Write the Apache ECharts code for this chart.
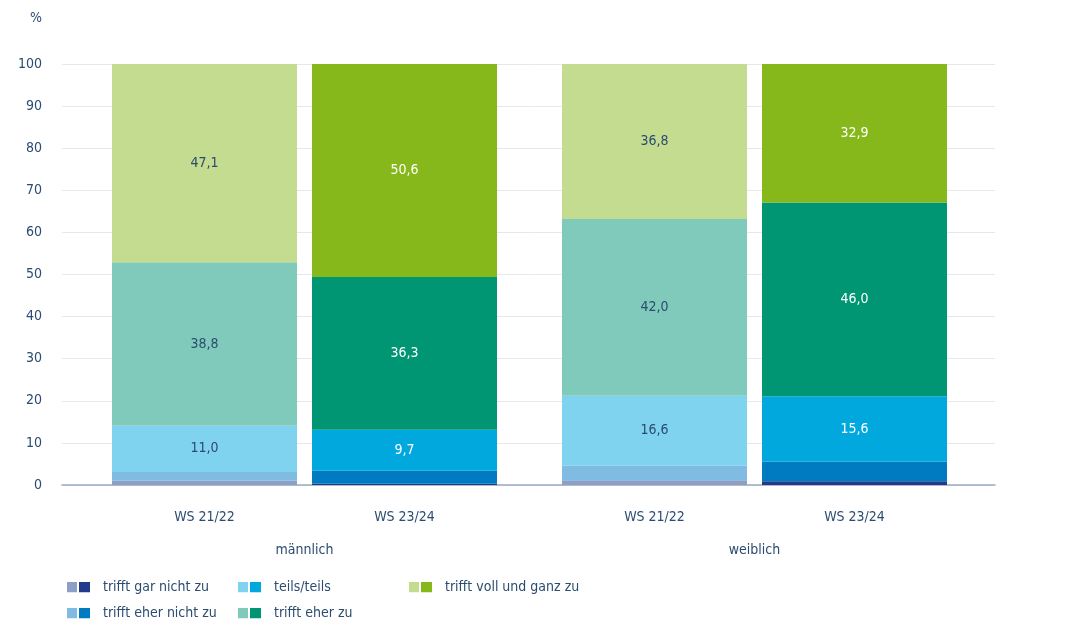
<!DOCTYPE html>
<html>
<head>
<meta charset="utf-8">
<script src="https://cdn.jsdelivr.net/npm/echarts@6/dist/echarts.min.js"></script>
<style>
  html, body { margin: 0; padding: 0; background: #fff; }
  #chart { width: 1080px; height: 632px; }
</style>
</head>
<body>
<div id="chart"></div>
<script>
const periods = ['WS 21/22', 'WS 23/24'];
const groups = ['männlich', 'weiblich'];
const answers = ['trifft gar nicht zu', 'trifft eher nicht zu', 'teils/teils', 'trifft eher zu', 'trifft voll und ganz zu'];
// values per answer, in order of answers
const maleWS2122 = [1.0, 2.1, 11.0, 38.8, 47.1];
const maleWS2324 = [0.3, 3.1, 9.7, 36.3, 50.6];
const femaleWS2122 = [1.1, 3.5, 16.6, 42.0, 36.8];
const femaleWS2324 = [0.9, 4.6, 15.6, 46.0, 32.9];
const yTicks = [0, 10, 20, 30, 40, 50, 60, 70, 80, 90, 100];

const lightColors = ['#8e9fc6', '#80bbe1', '#80d3ef', '#80cabb', '#c3dc8f'];
const darkColors = ['#213a8a', '#007bc1', '#00a8de', '#009673', '#86b81c'];
const textColor = '#2c4b70';
const fontFamily = '"Liberation Sans Narrow", "DejaVu Sans Condensed", sans-serif';

const groupData = [[maleWS2122, maleWS2324], [femaleWS2122, femaleWS2324]];

const fmt = (v) => v.toFixed(1).replace('.', ',');

const swatch = (i) => 'image://data:image/svg+xml;charset=utf-8,' + encodeURIComponent(
  '<svg xmlns="http://www.w3.org/2000/svg" width="31" height="11" viewBox="0 0 31 11" preserveAspectRatio="none">' +
  '<rect x="0" y="0" width="10" height="11" fill="' + lightColors[i] + '"/>' +
  '<rect x="12" y="0" width="11" height="11" fill="' + darkColors[i] + '"/></svg>');

const series = [];
groups.forEach((g, gi) => {
  answers.forEach((a, ai) => {
    series.push({
      name: a,
      type: 'bar',
      stack: g,
      xAxisIndex: gi + 1,
      yAxisIndex: gi + 1,
      barWidth: 185,
      data: periods.map((p, pi) => ({
        value: groupData[gi][pi][ai],
        itemStyle: { color: pi === 0 ? lightColors[ai] : darkColors[ai] },
        label: {
          show: groupData[gi][pi][ai] >= 5,
          color: pi === 0 ? textColor : '#ffffff',
        },
      })),
      label: {
        position: 'inside',
        fontFamily,
        fontSize: 14,
        formatter: (p) => fmt(p.value),
      },
    });
  });
});

const legendCols = [[0, 1], [2, 3], [4]];
const legendLeft = [67, 238, 409];

const chart = echarts.init(document.getElementById('chart'));
chart.setOption({
  animation: false,
  textStyle: { fontFamily },
  graphic: [{
    type: 'text',
    left: 30,
    top: 11,
    style: { text: '%', fill: textColor, fontSize: 14, fontFamily },
  }],
  legend: legendCols.map((col, ci) => ({
    orient: 'vertical',
    left: legendLeft[ci],
    top: 580,
    height: 52,
    padding: 0,
    itemWidth: 31,
    itemHeight: 11,
    itemGap: 12,
    selectedMode: false,
    textStyle: { color: textColor, fontSize: 14, fontFamily },
    data: col.map((i) => ({ name: answers[i], icon: swatch(i) })),
  })),
  grid: [
    { left: 62, right: 85, top: 64, bottom: 147 },
    { left: 104.5, width: 400, top: 64, bottom: 147 },
    { left: 554.5, width: 400, top: 64, bottom: 147 },
  ],
  xAxis: [
    {
      type: 'category',
      gridIndex: 0,
      data: [''],
      axisLine: { show: true, lineStyle: { color: '#9aabc0', width: 1.5 } },
      axisTick: { show: false },
      axisLabel: { show: false },
    },
    ...groups.map((g, gi) => ({
      type: 'category',
      gridIndex: gi + 1,
      data: periods,
      name: g,
      nameLocation: 'middle',
      nameGap: 58,
      nameTextStyle: { color: textColor, fontSize: 14, fontFamily },
      axisLine: { show: false },
      axisTick: { show: false },
      axisLabel: { color: textColor, fontSize: 14, margin: 25, fontFamily },
    })),
  ],
  yAxis: [
    {
      type: 'value',
      gridIndex: 0,
      min: yTicks[0],
      max: yTicks[yTicks.length - 1],
      interval: 10,
      axisLine: { show: false },
      axisTick: { show: false },
      axisLabel: { color: textColor, fontSize: 14, margin: 20, fontFamily },
      splitLine: { lineStyle: { color: '#e4e9f0' } },
    },
    ...groups.map((g, gi) => ({
      type: 'value',
      gridIndex: gi + 1,
      min: 0,
      max: 100,
      show: false,
    })),
  ],
  series,
});
</script>
</body>
</html>
